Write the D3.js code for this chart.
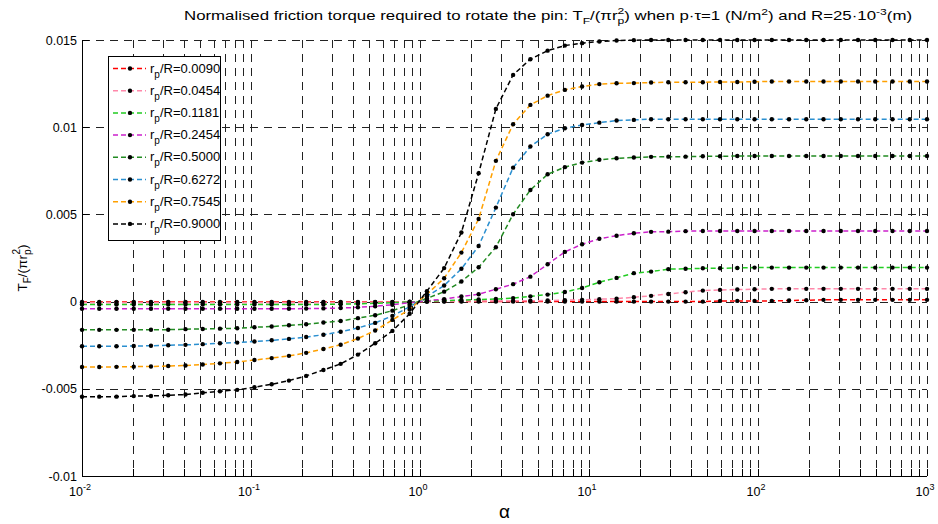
<!DOCTYPE html>
<html><head><meta charset="utf-8">
<script src="https://cdn.jsdelivr.net/npm/d3@7/dist/d3.min.js"></script>
<style>
body{margin:0;background:#fff}
svg{display:block}
text{font-family:"Liberation Sans",Arial,Helvetica,sans-serif;fill:#000}
</style>
</head><body>
<svg id="chart" width="938" height="524"></svg>
<script>
// ---------- data ----------
const alpha = [0.01,0.012649,0.015999,0.020236,0.025595,0.032375,0.040949,0.051795,0.065514,0.082866,
  0.104815,0.132576,0.16769,0.212105,0.268284,0.339342,0.429218,0.542901,0.686693,0.868566,
  1.09861,1.38959,1.75763,2.22315,2.81197,3.55674,4.49878,5.69035,7.19686,9.10298,
  11.514,14.5635,18.4207,23.2995,29.4705,37.2759,47.1487,59.6362,75.4312,95.4095,
  120.679,152.642,193.07,244.205,308.884,390.694,494.171,625.055,790.604,1000];

const ratioLabels = ["0.0090","0.0454","0.1181","0.2454","0.5000","0.6272","0.7545","0.9000"];
const seriesColors = ["#ff0000","#ff88aa","#22cc22","#cc22cc","#228b22","#2a8fd0","#ffa000","#000000"];

const r0090 = [-0.00002,-0.00002,-0.00002,-0.00002,-0.00002,-0.00002,-0.00002,-0.00002,-0.00002,-0.00002,
  -0.00002,-0.00002,-0.00002,-0.00002,-0.00002,-0.00002,-0.00002,-0.00002,-0.00002,-0.00002,
  0,0,0,0,0,0,0,0,0,0,
  0,0,0,0,0,0,0,0.00004,0.00004,0.00004,
  0.00004,0.00006,0.00008,0.0001,0.0001,0.0001,0.0001,0.0001,0.0001,0.0001];
const r0454 = [-0.00006,-0.00006,-0.00006,-0.00006,-0.00006,-0.00006,-0.00006,-0.00006,-0.00006,-0.00006,
  -0.00006,-0.00006,-0.00006,-0.00006,-0.00006,-0.00006,-0.00005,-0.00004,-0.00003,-0.00001,
  0.00001,0.00002,0.00003,0.00003,0.00004,0.00004,0.00005,0.00006,0.00008,0.0001,
  0.00014,0.00017,0.00025,0.00033,0.00044,0.00054,0.00063,0.00067,0.00069,0.00071,
  0.00073,0.00073,0.00073,0.00073,0.00073,0.00073,0.00073,0.00073,0.00073,0.00073];
const r1181 = [-0.00016,-0.00016,-0.00016,-0.00016,-0.00016,-0.00016,-0.00016,-0.00016,-0.00016,-0.00016,
  -0.00016,-0.00016,-0.00016,-0.00016,-0.00016,-0.00015,-0.00013,-0.0001,-0.00006,-0.00002,
  0.00002,0.00006,0.00009,0.00012,0.00015,0.0002,0.0003,0.0004,0.00055,0.00078,
  0.00111,0.00136,0.00163,0.00172,0.00186,0.00188,0.00191,0.00191,0.00193,0.00195,
  0.00195,0.00195,0.00195,0.00195,0.00195,0.00195,0.00195,0.00195,0.00195,0.00195];
const r2454 = [-0.00041,-0.00041,-0.00041,-0.00041,-0.00041,-0.00041,-0.00041,-0.00041,-0.00041,-0.00041,
  -0.00041,-0.00041,-0.00041,-0.0004,-0.00039,-0.00037,-0.00033,-0.00027,-0.00018,-0.00006,
  0.00005,0.00014,0.00029,0.00042,0.00071,0.001,0.00143,0.00214,0.00285,0.00329,
  0.0036,0.00378,0.00392,0.004,0.00401,0.00404,0.00405,0.00405,0.00405,0.00405,
  0.00405,0.00405,0.00405,0.00405,0.00405,0.00405,0.00405,0.00405,0.00405,0.00405];
const r5000 = [-0.00162,-0.00162,-0.00162,-0.00162,-0.00161,-0.00161,-0.00158,-0.00157,-0.00155,-0.00153,
  -0.00147,-0.00143,-0.00136,-0.0013,-0.0012,-0.00111,-0.00095,-0.00078,-0.00052,-0.00018,
  0.00018,0.00057,0.00115,0.00197,0.00312,0.00501,0.0064,0.0073,0.00771,0.00797,
  0.00813,0.00822,0.00826,0.0083,0.00831,0.00831,0.00833,0.00833,0.00835,0.00835,
  0.00835,0.00835,0.00835,0.00835,0.00835,0.00835,0.00835,0.00835,0.00835,0.00835];
const r6272 = [-0.00256,-0.00256,-0.00256,-0.00255,-0.00253,-0.0025,-0.00248,-0.00244,-0.00239,-0.00235,
  -0.00229,-0.00222,-0.00214,-0.00203,-0.0019,-0.00173,-0.00151,-0.00122,-0.00082,-0.0003,
  0.0003,0.00092,0.00188,0.00319,0.00539,0.00768,0.00889,0.0096,0.00994,0.01013,
  0.01026,0.01038,0.01042,0.01046,0.01046,0.01046,0.01046,0.01046,0.01046,0.01046,
  0.01046,0.01046,0.01046,0.01046,0.01046,0.01046,0.01046,0.01046,0.01046,0.01046];
const r7545 = [-0.00375,-0.00375,-0.00374,-0.00373,-0.00372,-0.00369,-0.00366,-0.00361,-0.00354,-0.00346,
  -0.00335,-0.00324,-0.00311,-0.00294,-0.00272,-0.00247,-0.00212,-0.00166,-0.00105,-0.00045,
  0.00042,0.00134,0.00281,0.00474,0.00807,0.01017,0.01128,0.01181,0.01214,0.01233,
  0.01247,0.01252,0.01253,0.01256,0.01258,0.01258,0.01258,0.01259,0.01259,0.01261,
  0.01262,0.01262,0.01262,0.01262,0.01262,0.01262,0.01262,0.01262,0.01262,0.01262];
const r9000 = [-0.00546,-0.00545,-0.00545,-0.00542,-0.00541,-0.00537,-0.00533,-0.00523,-0.00514,-0.00506,
  -0.00491,-0.00474,-0.00453,-0.00426,-0.00392,-0.00357,-0.00304,-0.00239,-0.00168,-0.0007,
  0.0006,0.00192,0.00396,0.00736,0.01105,0.013,0.0139,0.01439,0.01468,0.01482,
  0.01491,0.01497,0.01499,0.015,0.015,0.015,0.015,0.015,0.015,0.015,
  0.015,0.015,0.015,0.015,0.015,0.015,0.015,0.015,0.015,0.015];

const yTicks = [-0.01,-0.005,0,0.005,0.01,0.015];
const yTickLabels = ["-0.01","-0.005","0","0.005","0.01","0.015"];
const xMajor = [0.01,0.1,1,10,100,1000];
const xMajorExp = ["-2","-1","0","1","2","3"];

const allSeries = [r0090,r0454,r1181,r2454,r5000,r6272,r7545,r9000];

// ---------- layout ----------
const L = 82, R = 927, T = 40, B = 476;
const svg = d3.select("#chart");
const x = d3.scaleLog().domain([0.01,1000]).range([L,R]);
const y = d3.scaleLinear().domain([-0.01,0.015]).range([B,T]);

// minor positions for log grid
const xMinor = [];
for (let e=-2; e<=2; e++) for (let m=1; m<=9; m++) xMinor.push(+(m*Math.pow(10,e)).toPrecision(3));
xMinor.push(1000);

// grid
const grid = svg.append("g").attr("stroke","#222").attr("stroke-width",1).attr("stroke-dasharray","8,6");
grid.selectAll("line.v").data(xMinor.filter(v=>v>0.01)).join("line")
  .attr("x1",d=>Math.round(x(d))+0.5).attr("x2",d=>Math.round(x(d))+0.5).attr("y1",T).attr("y2",B);
grid.selectAll("line.h").data(yTicks.filter(v=>v>-0.01)).join("line")
  .attr("x1",L).attr("x2",R).attr("y1",d=>Math.round(y(d))+0.5).attr("y2",d=>Math.round(y(d))+0.5);

// axes
const ax = svg.append("g").attr("stroke","#000").attr("stroke-width",1);
ax.append("line").attr("x1",L+0.5).attr("x2",L+0.5).attr("y1",T).attr("y2",B+0.5);
ax.append("line").attr("x1",L).attr("x2",R).attr("y1",B+0.5).attr("y2",B+0.5);
ax.selectAll("line.yt").data(yTicks).join("line")
  .attr("x1",L).attr("x2",L+7).attr("y1",d=>Math.round(y(d))+0.5).attr("y2",d=>Math.round(y(d))+0.5);
ax.selectAll("line.xt").data(xMinor).join("line")
  .attr("x1",d=>Math.round(x(d))+0.5).attr("x2",d=>Math.round(x(d))+0.5)
  .attr("y1",B).attr("y2",B-7);

// y tick labels
svg.append("g").selectAll("text").data(yTicks).join("text")
  .attr("x",L-5).attr("y",d=>y(d)+4.5).attr("text-anchor","end").attr("font-size",12.5)
  .text((d,i)=>yTickLabels[i]);

// x tick labels
const xl = svg.append("g").selectAll("text").data(xMajor).join("text")
  .attr("x",d=>x(d)-2).attr("y",B+20).attr("text-anchor","middle").attr("font-size",12.5);
xl.append("tspan").text("10");
xl.append("tspan").attr("dy",-6).attr("font-size",9).text((d,i)=>xMajorExp[i]);

// axis titles
svg.append("text").attr("x",(L+R)/2).attr("y",B+42).attr("text-anchor","middle")
  .attr("font-size",19).text("α");

const yl = svg.append("text").attr("transform","translate(27,"+(268)+") rotate(-90)")
  .attr("text-anchor","middle").attr("font-size",13.5);
yl.append("tspan").text("T");
yl.append("tspan").attr("dy",4).attr("font-size",10).text("F");
yl.append("tspan").attr("dy",-4).text("/(πr");
yl.append("tspan").attr("dy",4).attr("font-size",10).text("p");
yl.append("tspan").attr("dx",-5).attr("dy",-11).attr("font-size",10).text("2");
yl.append("tspan").attr("dy",7).text(")");

// title
const tt = svg.append("text").attr("x",184).attr("y",20).attr("font-size",12.5)
  .attr("textLength",728).attr("lengthAdjust","spacingAndGlyphs");
tt.append("tspan").text("Normalised friction torque required to rotate the pin: T");
tt.append("tspan").attr("dy",4).attr("font-size",9).text("F");
tt.append("tspan").attr("dy",-4).text("/(πr");
tt.append("tspan").attr("dy",4).attr("font-size",9).text("p");
tt.append("tspan").attr("dx",-5).attr("dy",-10).attr("font-size",9).text("2");
tt.append("tspan").attr("dy",6).text(") when p·τ=1 (N/m");
tt.append("tspan").attr("dy",-5).attr("font-size",9).text("2");
tt.append("tspan").attr("dy",5).text(") and R=25·10");
tt.append("tspan").attr("dy",-5).attr("font-size",9).text("-3");
tt.append("tspan").attr("dy",5).text("(m)");

// series
const line = d3.line().x((d,i)=>x(alpha[i])).y(d=>y(d));
const sg = svg.append("g");
allSeries.forEach((vals,si)=>{
  const g = sg.append("g");
  g.append("path").datum(vals).attr("d",line).attr("fill","none")
    .attr("stroke",seriesColors[si]).attr("stroke-width",1.5).attr("stroke-dasharray","5,3");
  g.selectAll("circle").data(vals).join("circle")
    .attr("cx",(d,i)=>x(alpha[i])).attr("cy",d=>y(d)).attr("r",2.2).attr("fill","#000");
});

// legend
const lg = svg.append("g");
lg.append("rect").attr("x",108.5).attr("y",56.5).attr("width",112).attr("height",184)
  .attr("fill","#fff").attr("stroke","#000").attr("stroke-width",1);
const ent = lg.selectAll("g.e").data(ratioLabels).join("g")
  .attr("transform",(d,i)=>"translate(0,"+(68.5+i*22.2)+")");
ent.append("line").attr("x1",113).attr("x2",146).attr("y1",0).attr("y2",0)
  .attr("stroke",(d,i)=>seriesColors[i]).attr("stroke-width",1.5).attr("stroke-dasharray","5,3");
ent.append("circle").attr("cx",130).attr("cy",0).attr("r",2.2).attr("fill","#000");
const et = ent.append("text").attr("x",150).attr("y",4).attr("font-size",13);
et.append("tspan").text("r");
et.append("tspan").attr("dy",5).attr("font-size",10).text("p");
et.append("tspan").attr("dy",-5).text(d=>"/R="+d);
</script>
</body></html>
